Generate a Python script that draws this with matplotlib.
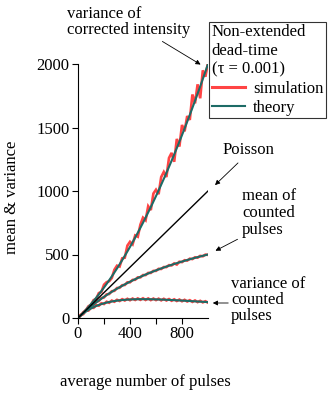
import matplotlib
matplotlib.use("Agg")
import matplotlib.pyplot as plt

plt.rcParams['font.family'] = ['Liberation Serif', 'DejaVu Serif']

# average number of pulses (x grid)
pulses = [0, 20, 40, 60, 80, 100, 120, 140, 160, 180, 200, 220, 240, 260, 280,
          300, 320, 340, 360, 380, 400, 420, 440, 460, 480, 500, 520, 540, 560,
          580, 600, 620, 640, 660, 680, 700, 720, 740, 760, 780, 800, 820, 840,
          860, 880, 900, 920, 940, 960, 980, 1000]

# theory curves
th_corr = [0, 20.4, 41.6, 63.6, 86.4, 110, 134.4, 159.6, 185.6, 212.4, 240,
           268.4, 297.6, 327.6, 358.4, 390, 422.4, 455.6, 489.6, 524.4, 560,
           596.4, 633.6, 671.6, 710.4, 750, 790.4, 831.6, 873.6, 916.4, 960,
           1004.4, 1049.6, 1095.6, 1142.4, 1190, 1238.4, 1287.6, 1337.6, 1388.4,
           1440, 1492.4, 1545.6, 1599.6, 1654.4, 1710, 1766.4, 1823.6, 1881.6,
           1940.4, 2000]
th_mean = [0, 19.6, 38.5, 56.6, 74.1, 90.9, 107.1, 122.8, 137.9, 152.5, 166.7,
           180.3, 193.5, 206.3, 218.8, 230.8, 242.4, 253.7, 264.7, 275.4, 285.7,
           295.8, 305.6, 315.1, 324.3, 333.3, 342.1, 350.6, 359.0, 367.1, 375.0,
           382.7, 390.2, 397.6, 404.8, 411.8, 418.6, 425.3, 431.8, 438.2, 444.4,
           450.5, 456.5, 462.4, 468.1, 473.7, 479.2, 484.5, 489.8, 494.9, 500]
th_var = [0, 18.8, 35.6, 50.4, 63.5, 75.1, 85.4, 94.5, 102.5, 109.6, 115.7,
          121.2, 125.9, 130.0, 133.5, 136.5, 139.1, 141.3, 143.1, 144.6, 145.8,
          146.7, 147.4, 147.8, 148.1, 148.1, 148.1, 147.9, 147.5, 147.0, 146.5,
          145.8, 145.1, 144.3, 143.4, 142.5, 141.5, 140.5, 139.4, 138.3, 137.2,
          136.0, 134.8, 133.6, 132.4, 131.2, 130.0, 128.7, 127.5, 126.3, 125]

# simulation (noisy) curves
sim_corr = [0, 18, 45, 60, 92, 104, 141, 150, 196, 205, 262, 282, 290, 315,
            380, 412, 405, 470, 475, 570, 600, 580, 650, 640, 735, 790, 770,
            880, 850, 980, 1010, 975, 1110, 1150, 1110, 1260, 1300, 1230, 1410,
            1350, 1520, 1470, 1590, 1560, 1760, 1690, 1840, 1730, 1950, 1900,
            2010]
sim_mean = [0, 23, 35, 61, 70, 95, 104, 127, 134, 157, 162, 186, 189, 211, 214,
            236, 238, 258, 260, 281, 281, 300, 301, 320, 320, 338, 338, 355, 355,
            371, 371, 387, 386, 401, 401, 416, 414, 430, 421, 443, 440, 455, 452,
            467, 464, 478, 475, 489, 486, 499, 497]
sim_var = [0, 24, 30, 57, 58, 81, 80, 101, 97, 116, 110, 128, 120, 137, 128,
           143, 134, 148, 138, 151, 140, 153, 142, 154, 143, 155, 142, 154, 141,
           153, 141, 152, 139, 151, 138, 149, 136, 147, 134, 145, 132, 143, 130,
           140, 127, 138, 125, 135, 123, 132, 121]

poisson_x = [0, 1000]
poisson_y = [0, 1000]

red = '#ff4444'
teal = '#1d6b66'

fig = plt.figure(figsize=(3.35, 3.98), dpi=100)
ax = fig.add_axes([78 / 335, 80 / 398, 130 / 335, 254 / 398])

for sim in (sim_corr, sim_mean, sim_var):
    ax.plot(pulses, sim, color=red, lw=1.9, solid_joinstyle='miter')
ax.plot(pulses, th_corr, color=teal, lw=1.5)
ax.plot(pulses, th_mean, color=teal, lw=1.5)
ax.plot(pulses, th_var, color=teal, lw=1.5)
ax.plot(poisson_x, poisson_y, color='black', lw=1.0)

ax.set_xlim(0, 1000)
ax.set_ylim(0, 2000)
ax.set_xticks([0, 400, 800])
ax.set_xticks([200, 600], minor=True)
ax.set_yticks([0, 500, 1000, 1500, 2000])
ax.spines['top'].set_visible(False)
ax.spines['right'].set_visible(False)
ax.tick_params(direction='out', length=4, width=0.8, labelsize=12, pad=2)
ax.tick_params(which='minor', direction='out', length=4, width=0.8)

fig.text(145 / 335, 1 - 382 / 398, 'average number of pulses', ha='center', va='center', fontsize=12)
fig.text(12 / 335, 1 - 197 / 398, 'mean & variance', ha='center', va='center', rotation=90, fontsize=12)

# legend
h_sim, = ax.plot([], [], color=red, lw=2.2)
h_th, = ax.plot([], [], color=teal, lw=1.5)
leg = ax.legend([h_sim, h_th], ['simulation', 'theory'],
                title='Non-extended\ndead-time\n(τ = 0.001)',
                loc='upper left', bbox_to_anchor=(209 / 335, 1 - 22 / 398),
                bbox_transform=fig.transFigure, fontsize=12, title_fontsize=12,
                frameon=True, fancybox=False, borderpad=0.15, handlelength=2.0,
                handletextpad=0.5, labelspacing=0.2, borderaxespad=0)
leg._legend_box.align = 'left'
leg.get_frame().set_edgecolor('black')
leg.get_frame().set_linewidth(0.8)


def px(x, y):
    return (x / 335, 1 - y / 398)


arrow = dict(arrowstyle='-|>', color='black', lw=0.6, mutation_scale=7)

fig.text(*px(67, 22), 'variance of\ncorrected intensity', ha='left', va='center',
         fontsize=12, linespacing=1.0)
ax.annotate('', xy=px(203, 66), xycoords='figure fraction',
            xytext=px(160, 40), textcoords='figure fraction', arrowprops=arrow)

fig.text(*px(248, 150), 'Poisson', ha='center', va='center', fontsize=12)
ax.annotate('', xy=px(213, 187), xycoords='figure fraction',
            xytext=px(240, 161), textcoords='figure fraction', arrowprops=arrow)

fig.text(*px(242, 213), 'mean of\ncounted\npulses', ha='left', va='center',
         fontsize=12, linespacing=1.05)
ax.annotate('', xy=px(213, 252), xycoords='figure fraction',
            xytext=px(240, 238), textcoords='figure fraction', arrowprops=arrow)

fig.text(*px(231, 300), 'variance of\ncounted\npulses', ha='left', va='center',
         fontsize=12, linespacing=1.0)
ax.annotate('', xy=px(210, 303), xycoords='figure fraction',
            xytext=px(231, 303), textcoords='figure fraction', arrowprops=arrow)

fig.savefig('out.png', dpi=100)
